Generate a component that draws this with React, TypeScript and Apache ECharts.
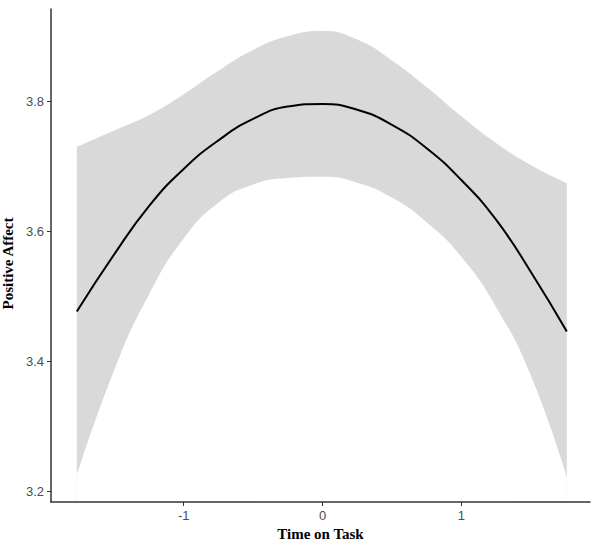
import React, { useEffect, useRef } from "react";
import * as echarts from "echarts";

const timeOnTask = [-1.77, -1.5, -1.25, -1, -0.75, -0.5, -0.25, 0, 0.25, 0.5, 0.75, 1, 1.25, 1.5, 1.76];
const fitted = [3.477, 3.565, 3.639, 3.696, 3.74, 3.773, 3.792, 3.796, 3.787, 3.764, 3.728, 3.679, 3.618, 3.538, 3.446];
const upper = [3.73, 3.755, 3.779, 3.811, 3.847, 3.879, 3.9, 3.908, 3.895, 3.863, 3.822, 3.777, 3.736, 3.702, 3.674];
const lower = [3.225, 3.387, 3.503, 3.589, 3.644, 3.672, 3.682, 3.684, 3.675, 3.652, 3.614, 3.561, 3.484, 3.379, 3.223];

const xTicks = [-1, 0, 1];
const yTicks = [3.2, 3.4, 3.6, 3.8];

export default function App() {
  const ref = useRef<HTMLDivElement>(null);

  useEffect(() => {
    document.body.style.margin = "0";
    if (!ref.current) return;
    const chart = echarts.init(ref.current, undefined, { renderer: "svg" });
    const axisColor = "#333333";
    const labelStyle = {
      color: "#4d4d4d",
      fontSize: 13,
      fontFamily: "Liberation Sans, Arial, sans-serif",
    };
    const nameStyle = {
      color: "#000000",
      fontSize: 15,
      fontWeight: "bold" as const,
      fontFamily: "Liberation Serif, Times New Roman, serif",
    };
    chart.setOption({
      animation: false,
      backgroundColor: "#ffffff",
      grid: { left: 51, right: 10, top: 9, bottom: 42, containLabel: false, outerBoundsMode: "none" },
      xAxis: {
        type: "value",
        min: -1.956,
        max: 1.927,
        z: 10,
        name: "Time on Task",
        nameLocation: "middle",
        nameGap: 24,
        nameTextStyle: nameStyle,
        splitLine: { show: false },
        axisLine: { show: true, onZero: false, lineStyle: { color: axisColor, width: 1.5 } },
        axisTick: { show: true, length: 4, customValues: xTicks, lineStyle: { color: axisColor, width: 1 } },
        axisLabel: { ...labelStyle, margin: 7, customValues: xTicks, formatter: (v: number) => String(v) },
      },
      yAxis: {
        type: "value",
        min: 3.184,
        max: 3.942,
        z: 10,
        name: "Positive Affect",
        nameLocation: "middle",
        nameRotate: 90,
        nameGap: 15,
        nameTextStyle: { ...nameStyle, padding: [0, 16, 0, 0] },
        splitLine: { show: false },
        axisLine: { show: true, onZero: false, lineStyle: { color: axisColor, width: 1.5 } },
        axisTick: { show: true, length: 4, customValues: yTicks, lineStyle: { color: axisColor, width: 1 } },
        axisLabel: { ...labelStyle, margin: 7, customValues: yTicks, formatter: (v: number) => v.toFixed(1) },
      },
      series: [
        {
          name: "upper",
          type: "line",
          smooth: true,
          symbol: "none",
          silent: true,
          lineStyle: { width: 0, opacity: 0 },
          areaStyle: { color: "#d9d9d9", opacity: 1, origin: "start" },
          data: timeOnTask.map((x, i) => [x, upper[i]]),
          z: 1,
        },
        {
          name: "lower",
          type: "line",
          smooth: true,
          symbol: "none",
          silent: true,
          lineStyle: { width: 0, opacity: 0 },
          areaStyle: { color: "#ffffff", opacity: 1, origin: "start" },
          data: timeOnTask.map((x, i) => [x, lower[i]]),
          z: 2,
        },
        {
          name: "fit",
          type: "line",
          smooth: true,
          symbol: "none",
          lineStyle: { color: "#000000", width: 2 },
          data: timeOnTask.map((x, i) => [x, fitted[i]]),
          z: 3,
        },
      ],
    });
    return () => chart.dispose();
  }, []);

  return <div ref={ref} style={{ width: 600, height: 544 }} />;
}
